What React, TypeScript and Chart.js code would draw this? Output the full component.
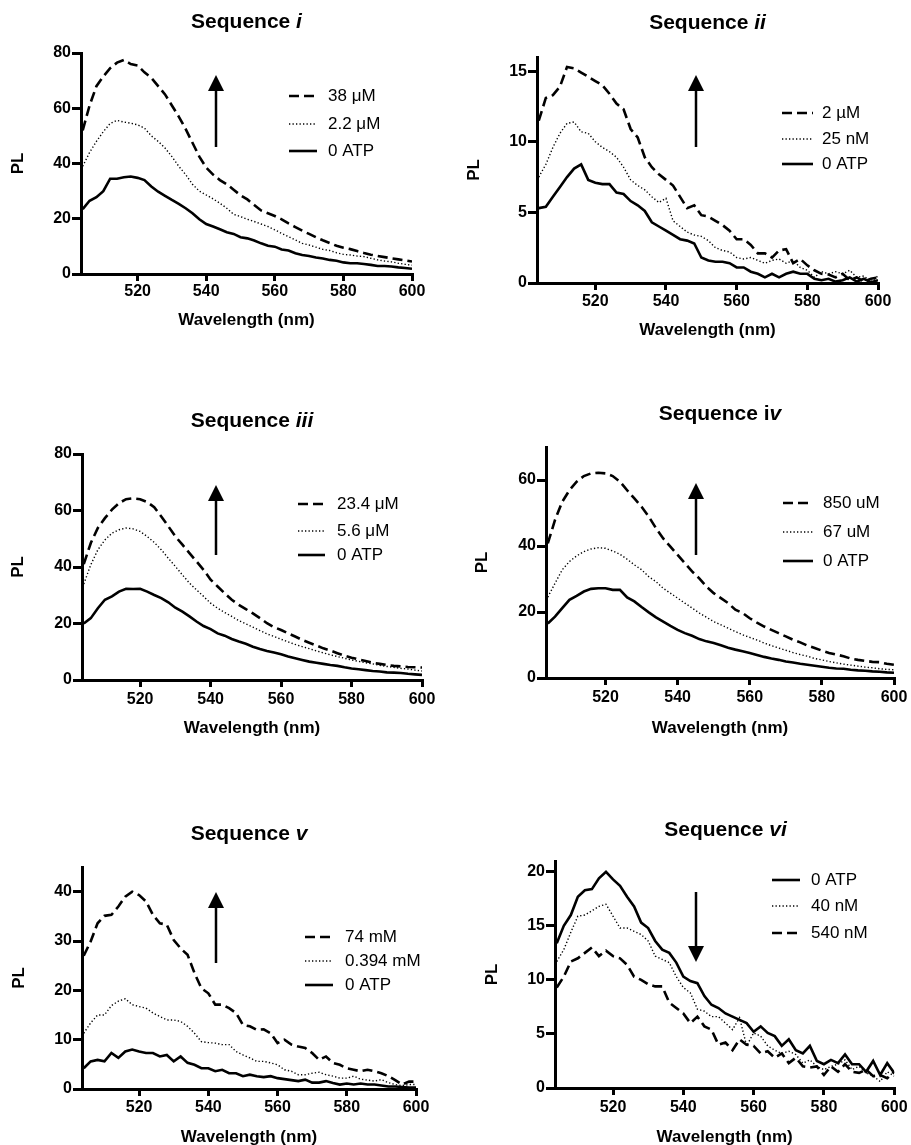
import React, { useEffect, useRef } from "react";
import { Chart, registerables } from "chart.js";

Chart.register(...registerables);

const FONT = "'Liberation Sans', Arial, Helvetica, sans-serif";

// ---------- data ----------
const wavelengths = [
  504, 506, 508, 510, 512, 514, 516, 518, 520, 522,
  524, 526, 528, 530, 532, 534, 536, 538, 540, 542,
  544, 546, 548, 550, 552, 554, 556, 558, 560, 562,
  564, 566, 568, 570, 572, 574, 576, 578, 580, 582,
  584, 586, 588, 590, 592, 594, 596, 598, 600,
];
const xMin = 503.5;
const xMax = 600;
const xTicks = [520, 540, 560, 580, 600];

const yTicksI = [0, 20, 40, 60, 80];
const yTicksII = [0, 5, 10, 15];
const yTicksIII = [0, 20, 40, 60, 80];
const yTicksIV = [0, 20, 40, 60];
const yTicksV = [0, 10, 20, 30, 40];
const yTicksVI = [0, 5, 10, 15, 20];

const seqI_38uM = [
  52, 61, 68, 71.5, 74.5, 76.5, 77.5, 76, 75.5, 73,
  71, 68, 65, 61, 57, 52.5, 47.5, 42.5, 38.5, 36,
  34, 32.5, 30.5, 28.5, 27, 25, 23, 22, 21, 19.8,
  18.3, 17, 15.7, 14.5, 13.3, 12.2, 11.2, 10.2, 9.5, 9,
  8.3, 7.6, 7, 6.5, 6.1, 5.7, 5.3, 4.9, 4.5,
];
const seqI_2_2uM = [
  39, 44, 48, 51.5, 54.5, 55.6, 55, 54.6, 54, 52.8,
  50, 48, 45.6, 42.5, 39, 36, 32.5, 30, 28.6, 27.2,
  25.6, 23.8, 21.6, 20.8, 19.8, 19, 18.1, 17.2, 16, 14.7,
  13.5, 12.3, 11.1, 10.5, 9.7, 8.9, 8.5, 7.7, 7.1, 6.9,
  6.5, 6.3, 5.7, 5.1, 4.7, 4.4, 3.9, 3.5, 3.2,
];
const seqI_0ATP = [
  23.5, 26.5, 27.8, 30, 34.5, 34.5, 35, 35.3, 34.8, 34,
  31.7, 29.8, 28.3, 26.8, 25.4, 23.8, 22, 19.8, 18.1, 17.2,
  16.2, 15.1, 14.5, 13.3, 12.9, 12.1, 11.1, 10.2, 9.9, 8.9,
  8.5, 7.5, 6.9, 6.5, 6, 5.6, 5.1, 4.8, 4.2, 3.9,
  3.9, 3.6, 3.3, 2.9, 2.9, 2.7, 2.4, 2.2, 1.9,
];

const seqII_2uM = [
  11.5, 13.1, 13.3, 13.9, 15.3, 15.2, 14.9, 14.6, 14.3, 14,
  13.4, 12.7, 12.3, 10.9, 10.3, 8.9, 8.2, 7.7, 7.3, 6.9,
  6.1, 5.3, 5.5, 4.8, 4.7, 4.4, 4.1, 3.7, 3.1, 3.1,
  2.7, 2.1, 2.1, 1.8, 2.3, 2.4, 1.4, 1.7, 1.25, 0.9,
  0.65, 0.6, 0.4, 0.65, 0.2, 0.4, 0.1, 0.3, 0.4,
];
const seqII_25nM = [
  7.5, 8.4, 9.6, 10.6, 11.3, 11.4, 10.7, 10.6, 10, 9.6,
  9.3, 8.9, 8.2, 7.3, 6.9, 6.6, 6.1, 5.7, 6, 4.4,
  4, 3.6, 3.4, 3.3, 3, 2.5, 2.3, 2.2, 1.8, 1.7,
  1.8, 1.6, 1.4, 1.6, 1.7, 1.4, 1.6, 1.1, 0.9, 0.4,
  0.8, 0.65, 0.8, 0.65, 0.9, 0.4, 0.5, 0.1, 0.5,
];
const seqII_0ATP = [
  5.3, 5.4, 6.1, 6.8, 7.5, 8.1, 8.4, 7.3, 7.1, 7,
  7, 6.4, 6.3, 5.8, 5.5, 5.1, 4.3, 4, 3.7, 3.4,
  3.1, 3, 2.8, 1.8, 1.6, 1.5, 1.5, 1.4, 1.1, 1.1,
  0.8, 0.65, 0.4, 0.65, 0.4, 0.65, 0.8, 0.65, 0.65, 0.3,
  0.2, 0.3, 0.1, 0.2, 0.4, 0.1, 0.3, 0.05, 0.2,
];

const seqIII_23_4uM = [
  41, 48.5, 53.8, 57.3, 60.3, 62.6, 64, 64.3, 64, 63,
  61.2, 57.9, 54.4, 50.8, 47.9, 44.9, 42, 39, 35.5, 33.1,
  30.7, 28.4, 26.6, 25.1, 23.6, 21.9, 20.1, 18.7, 17.7, 16.5,
  15.4, 14.2, 13.2, 12.2, 11.2, 10.4, 9.5, 8.6, 7.9, 7.3,
  6.7, 6.1, 5.7, 5.3, 5, 4.8, 4.6, 4.5, 4.4,
];
const seqIII_5_6uM = [
  34, 40.8, 46.1, 49.6, 52, 53.2, 53.8, 53.5, 52.6, 50.8,
  48.7, 46.1, 43.1, 40.2, 37.2, 34.3, 31.9, 29.6, 27.2, 25.4,
  23.9, 22.5, 21, 19.9, 18.7, 17.5, 16.3, 15.4, 14.4, 13.5,
  12.6, 11.8, 11.1, 10.3, 9.6, 8.9, 8.3, 7.7, 7.1, 6.6,
  6.1, 5.7, 5.2, 4.8, 4.5, 4.1, 3.9, 3.5, 3.2,
];
const seqIII_0ATP = [
  20, 21.9, 25.4, 28.4, 29.6, 31.3, 32.3, 32.2, 32.3, 31.3,
  30.1, 29, 27.5, 25.6, 24.2, 22.5, 20.7, 19.1, 18, 16.5,
  15.7, 14.5, 13.6, 12.8, 11.8, 11, 10.3, 9.7, 9.1, 8.3,
  7.7, 7.1, 6.5, 6.1, 5.7, 5.3, 5, 4.5, 4.1, 3.8,
  3.5, 3.2, 3, 2.7, 2.6, 2.5, 2.2, 2, 1.8,
];

const seqIV_850uM = [
  40.8, 47.9, 53.4, 56.9, 59.5, 61.2, 62, 62.2, 62, 61.2,
  59.5, 56.9, 54.4, 51.9, 48.9, 45.4, 42.3, 39.8, 37.3, 34.8,
  32.3, 30.2, 27.7, 25.7, 24.2, 22.7, 20.7, 19.7, 18.1, 16.8,
  15.6, 14.6, 13.6, 12.6, 11.6, 10.8, 9.8, 9.1, 8.3, 7.6,
  7.1, 6.6, 5.9, 5.5, 5.2, 4.9, 4.8, 4.3, 4,
];
const seqIV_67uM = [
  24.5, 28.7, 32.8, 35.3, 37, 38.3, 39.1, 39.5, 39.3, 38.5,
  37.5, 36, 34.3, 32.8, 30.7, 29.2, 27.2, 25.7, 24.2, 22.7,
  21.2, 19.7, 18.4, 17.1, 16.1, 15.1, 14.1, 13.1, 12.3, 11.5,
  10.6, 9.8, 9.1, 8.4, 7.7, 7.1, 6.6, 5.9, 5.5, 5,
  4.6, 4.2, 3.9, 3.6, 3.3, 3.1, 2.8, 2.6, 2.5,
];
const seqIV_0ATP = [
  16.5, 18.6, 21.2, 23.7, 24.9, 26.2, 27, 27.2, 27.2, 26.7,
  26.7, 24.4, 23.2, 21.5, 19.9, 18.4, 17.1, 15.8, 14.6, 13.6,
  12.8, 11.8, 11.1, 10.6, 9.9, 9.2, 8.6, 8.1, 7.6, 7,
  6.4, 5.9, 5.5, 5, 4.7, 4.3, 4, 3.7, 3.4, 3.1,
  2.9, 2.8, 2.5, 2.3, 2.2, 2, 1.9, 1.7, 1.6,
];

const seqV_74mM = [
  27, 29.9, 33.6, 35.1, 35.3, 37, 39, 40, 39.3, 38,
  35.3, 33.6, 33.3, 30.2, 28.5, 27.2, 23.5, 20.4, 19.4, 17.1,
  17.1, 16.4, 15.4, 13, 12.7, 12, 12.1, 11.3, 9.3, 10,
  9, 8.6, 8.3, 7.3, 5.9, 6.6, 5.3, 4.9, 4.2, 3.9,
  3.6, 3.9, 3.6, 3.2, 2.6, 1.8, 0.9, 1.5, 1.5,
];
const seqV_0_394mM = [
  11.3, 13.4, 15, 15, 16.9, 17.8, 18.3, 17.1, 16.7, 16.4,
  15.4, 14.7, 14, 14, 13.7, 12.7, 11.3, 9.6, 9.4, 9.3,
  9, 9, 7.6, 6.9, 6.3, 5.6, 5.6, 5.3, 4.9, 3.9,
  3.6, 2.9, 2.9, 3.2, 3.4, 2.9, 2.6, 2.2, 2.2, 2.6,
  2, 1.8, 1.6, 1.9, 1.3, 0.9, 0.7, 0.9, 0.9,
];
const seqV_0ATP = [
  4.2, 5.6, 5.9, 5.6, 7.3, 6.3, 7.6, 8, 7.6, 7.3,
  7.3, 6.6, 6.9, 5.6, 6.6, 5.3, 4.9, 4.2, 4.2, 3.6,
  3.9, 3.2, 3.2, 2.6, 2.9, 2.6, 2.4, 2.6, 2.2, 2,
  1.8, 1.6, 1.9, 1.3, 1.3, 1.6, 1.2, 0.9, 1.1, 0.9,
  1.1, 0.9, 0.9, 0.7, 0.5, 0.5, 0.4, 0.3, 0.3,
];

const seqVI_0ATP = [
  13.4, 15, 16, 17.7, 18.3, 18.4, 19.4, 20, 19.3, 18.7,
  17.7, 16.8, 15.3, 14.8, 13.6, 12.8, 12.5, 11.6, 10.3, 9.9,
  9.7, 8.5, 7.7, 7.4, 6.9, 6.6, 6.3, 6, 5.2, 5.7,
  5.1, 4.8, 3.9, 4.5, 3.5, 3.2, 3.9, 2.5, 2.2, 2.6,
  2.3, 3.1, 2.2, 2.2, 1.5, 2.5, 1.2, 2.3, 1.4,
];
const seqVI_40nM = [
  11.7, 12.8, 14.4, 15.9, 16, 16.4, 16.8, 17, 15.9, 14.8,
  14.8, 14.5, 14.2, 13.6, 12.2, 11.9, 11.6, 10.3, 9.3, 8.8,
  7.3, 7.1, 6.6, 6.6, 6, 5.4, 6.5, 3.9, 5.1, 4.8,
  3.9, 3.5, 3.2, 3.4, 3.1, 2.3, 2.6, 2, 1.7, 2,
  2.2, 2.6, 1.7, 2, 1.4, 1.1, 0.6, 1.5, 1.1,
];
const seqVI_540nM = [
  9.3, 10.3, 11.7, 12, 12.5, 13, 12.2, 12.7, 12.2, 12,
  11.4, 10.3, 10, 9.6, 9.4, 9.4, 7.9, 7.4, 6.9, 6,
  6.6, 5.7, 5.4, 4, 4.2, 3.5, 4.5, 4, 3.9, 3.2,
  3.4, 2.8, 3.2, 2.3, 2.8, 2, 1.9, 2, 1.2, 2,
  1.5, 2.2, 1.5, 1.4, 1.7, 1.1, 1.2, 0.9, 1.5,
];

// ---------- styles & layout ----------
type LineStyle = "solid" | "dashed" | "dotted";
const LINE_STYLES: Record<LineStyle, { width: number; dash: number[] }> = {
  solid: { width: 2.6, dash: [] },
  dashed: { width: 2.6, dash: [10, 5] },
  dotted: { width: 1.4, dash: [1.3, 2.2] },
};

interface PanelSpec {
  title: [string, boolean][];
  series: { label: string; data: number[]; style: LineStyle }[];
  yMax: number;
  yTicks: number[];
  area: { l: number; t: number; r: number; b: number };
  titleY: number;
  plX: number;
  xLabelY: number;
  tickLabelY: number;
  legend: { x0: number; x1: number; tx: number; ys: number[] };
  arrow: { x: number; from: number; to: number };
}

const CANVAS_W = 911;
const CANVAS_H = 1170;

const panels: PanelSpec[] = [
  {
    title: [["Sequence ", false], ["i", true]],
    series: [
      { label: "38 μM", data: seqI_38uM, style: "dashed" },
      { label: "2.2 μM", data: seqI_2_2uM, style: "dotted" },
      { label: "0 ATP", data: seqI_0ATP, style: "solid" },
    ],
    yMax: 80, yTicks: yTicksI,
    area: { l: 81, t: 53, r: 412, b: 274 },
    titleY: 22, plX: 18, xLabelY: 320, tickLabelY: 292,
    legend: { x0: 289, x1: 317, tx: 328, ys: [96, 124, 151] },
    arrow: { x: 216, from: 147, to: 75 },
  },
  {
    title: [["Sequence ", false], ["ii", true]],
    series: [
      { label: "2 µM", data: seqII_2uM, style: "dashed" },
      { label: "25 nM", data: seqII_25nM, style: "dotted" },
      { label: "0 ATP", data: seqII_0ATP, style: "solid" },
    ],
    yMax: 16, yTicks: yTicksII,
    area: { l: 537, t: 57, r: 878, b: 283 },
    titleY: 23, plX: 474, xLabelY: 330, tickLabelY: 302,
    legend: { x0: 782, x1: 813, tx: 822, ys: [113, 139, 164] },
    arrow: { x: 696, from: 147, to: 75 },
  },
  {
    title: [["Sequence ", false], ["iii", true]],
    series: [
      { label: "23.4 μM", data: seqIII_23_4uM, style: "dashed" },
      { label: "5.6 μM", data: seqIII_5_6uM, style: "dotted" },
      { label: "0 ATP", data: seqIII_0ATP, style: "solid" },
    ],
    yMax: 80, yTicks: yTicksIII,
    area: { l: 82, t: 454, r: 422, b: 680 },
    titleY: 421, plX: 18, xLabelY: 728, tickLabelY: 700,
    legend: { x0: 298, x1: 325, tx: 337, ys: [504, 531, 555] },
    arrow: { x: 216, from: 555, to: 485 },
  },
  {
    title: [["Sequence i", false], ["v", true]],
    series: [
      { label: "850 uM", data: seqIV_850uM, style: "dashed" },
      { label: "67 uM", data: seqIV_67uM, style: "dotted" },
      { label: "0 ATP", data: seqIV_0ATP, style: "solid" },
    ],
    yMax: 70, yTicks: yTicksIV,
    area: { l: 546, t: 447, r: 894, b: 678 },
    titleY: 414, plX: 482, xLabelY: 728, tickLabelY: 698,
    legend: { x0: 783, x1: 813, tx: 823, ys: [503, 532, 561] },
    arrow: { x: 696, from: 555, to: 483 },
  },
  {
    title: [["Sequence ", false], ["v", true]],
    series: [
      { label: "74 mM", data: seqV_74mM, style: "dashed" },
      { label: "0.394 mM", data: seqV_0_394mM, style: "dotted" },
      { label: "0 ATP", data: seqV_0ATP, style: "solid" },
    ],
    yMax: 45, yTicks: yTicksV,
    area: { l: 82, t: 867, r: 416, b: 1089 },
    titleY: 834, plX: 19, xLabelY: 1137, tickLabelY: 1108,
    legend: { x0: 305, x1: 333, tx: 345, ys: [937, 961, 985] },
    arrow: { x: 216, from: 963, to: 892 },
  },
  {
    title: [["Sequence ", false], ["vi", true]],
    series: [
      { label: "0 ATP", data: seqVI_0ATP, style: "solid" },
      { label: "40 nM", data: seqVI_40nM, style: "dotted" },
      { label: "540 nM", data: seqVI_540nM, style: "dashed" },
    ],
    yMax: 21, yTicks: yTicksVI,
    area: { l: 555, t: 861, r: 896, b: 1088 },
    titleY: 830, plX: 492, xLabelY: 1137, tickLabelY: 1108,
    legend: { x0: 772, x1: 800, tx: 811, ys: [880, 906, 933] },
    arrow: { x: 696, from: 892, to: 962 },
  },
];

function overlayPlugin(p: PanelSpec) {
  return {
    id: "overlay",
    afterDraw(chart: any) {
      const ctx: CanvasRenderingContext2D = chart.ctx;
      ctx.save();
      ctx.fillStyle = "#000";
      ctx.strokeStyle = "#000";
      // title with mixed italic parts
      const fontFor = (it: boolean) => `${it ? "italic " : ""}bold 21px ${FONT}`;
      let total = 0;
      const widths = p.title.map(([t, it]) => {
        ctx.font = fontFor(it);
        const w = ctx.measureText(t).width;
        total += w;
        return w;
      });
      let x = (p.area.l + p.area.r) / 2 - total / 2;
      ctx.textBaseline = "middle";
      ctx.textAlign = "left";
      p.title.forEach(([t, it], i) => {
        ctx.font = fontFor(it);
        ctx.fillText(t, x, p.titleY);
        x += widths[i];
      });
      // legend
      ctx.font = `17px ${FONT}`;
      p.series.forEach((s, i) => {
        const st = LINE_STYLES[s.style];
        const y = p.legend.ys[i];
        ctx.beginPath();
        ctx.lineWidth = st.width;
        ctx.setLineDash(st.dash);
        ctx.moveTo(p.legend.x0, y);
        ctx.lineTo(p.legend.x1, y);
        ctx.stroke();
        ctx.setLineDash([]);
        ctx.fillText(s.label, p.legend.tx, y);
      });
      // arrow
      const { x: ax, from, to } = p.arrow;
      const dir = to < from ? -1 : 1;
      const headLen = 16;
      const headHalf = 8;
      ctx.beginPath();
      ctx.lineWidth = 2.5;
      ctx.moveTo(ax, from);
      ctx.lineTo(ax, to - dir * (headLen - 2));
      ctx.stroke();
      ctx.beginPath();
      ctx.moveTo(ax, to);
      ctx.lineTo(ax - headHalf, to - dir * headLen);
      ctx.lineTo(ax + headHalf, to - dir * headLen);
      ctx.closePath();
      ctx.fill();
      ctx.restore();
    },
  };
}

function makeConfig(p: PanelSpec): any {
  const wy = p.area.l - p.plX + 10.2;
  const hx = p.xLabelY - p.area.b + 10.2;
  const xTickLen = 7;
  const xTickPad = Math.max(0, p.tickLabelY - p.area.b - xTickLen - 9.6);
  const axisGrid = (len: number) => ({
    display: true,
    drawOnChartArea: false,
    drawTicks: true,
    tickLength: len,
    lineWidth: 3,
    color: "#000",
  });
  const border = { display: true, width: 3, color: "#000" };
  const tickFont = { family: FONT, size: 16, weight: "bold" as const };
  const titleFont = { family: FONT, size: 17, weight: "bold" as const };
  return {
    type: "line",
    data: {
      datasets: p.series.map((s) => ({
        label: s.label,
        data: wavelengths.map((w, i) => ({ x: w, y: s.data[i] })),
        borderColor: "#000",
        backgroundColor: "#000",
        borderWidth: LINE_STYLES[s.style].width,
        borderDash: LINE_STYLES[s.style].dash,
        pointRadius: 0,
        tension: 0,
        fill: false,
      })),
    },
    options: {
      responsive: false,
      animation: false,
      events: [],
      layout: {
        padding: {
          left: p.area.l - wy,
          top: p.area.t,
          right: CANVAS_W - p.area.r,
          bottom: CANVAS_H - p.area.b - hx,
        },
      },
      plugins: {
        legend: { display: false },
        tooltip: { enabled: false },
        title: { display: false },
      },
      scales: {
        x: {
          type: "linear",
          min: xMin,
          max: xMax,
          afterFit: (s: any) => { s.height = hx; },
          afterBuildTicks: (s: any) => { s.ticks = xTicks.map((v) => ({ value: v })); },
          grid: axisGrid(xTickLen),
          border,
          ticks: { font: tickFont, color: "#000", padding: xTickPad, maxRotation: 0, autoSkip: false },
          title: { display: true, text: "Wavelength (nm)", font: titleFont, color: "#000", padding: 0 },
        },
        y: {
          type: "linear",
          min: 0,
          max: p.yMax,
          afterFit: (s: any) => { s.width = wy; },
          afterBuildTicks: (s: any) => { s.ticks = p.yTicks.map((v) => ({ value: v })); },
          grid: axisGrid(9),
          border,
          ticks: { font: tickFont, color: "#000", padding: 1, autoSkip: false },
          title: { display: true, text: "PL", font: titleFont, color: "#000", padding: 0 },
        },
      },
    },
    plugins: [overlayPlugin(p)],
  };
}

function Panel({ spec }: { spec: PanelSpec }) {
  const ref = useRef<HTMLCanvasElement | null>(null);
  useEffect(() => {
    if (!ref.current) return;
    const chart = new Chart(ref.current, makeConfig(spec));
    return () => chart.destroy();
  }, [spec]);
  return (
    <canvas
      ref={ref}
      width={CANVAS_W}
      height={CANVAS_H}
      style={{ position: "absolute", left: 0, top: 0, width: CANVAS_W, height: CANVAS_H }}
    />
  );
}

export default function App() {
  return (
    <div
      style={{
        position: "absolute",
        left: 0,
        top: 0,
        width: 911,
        height: 1145,
        overflow: "hidden",
        background: "#fff",
      }}
    >
      {panels.map((p, i) => (
        <Panel key={i} spec={p} />
      ))}
    </div>
  );
}
